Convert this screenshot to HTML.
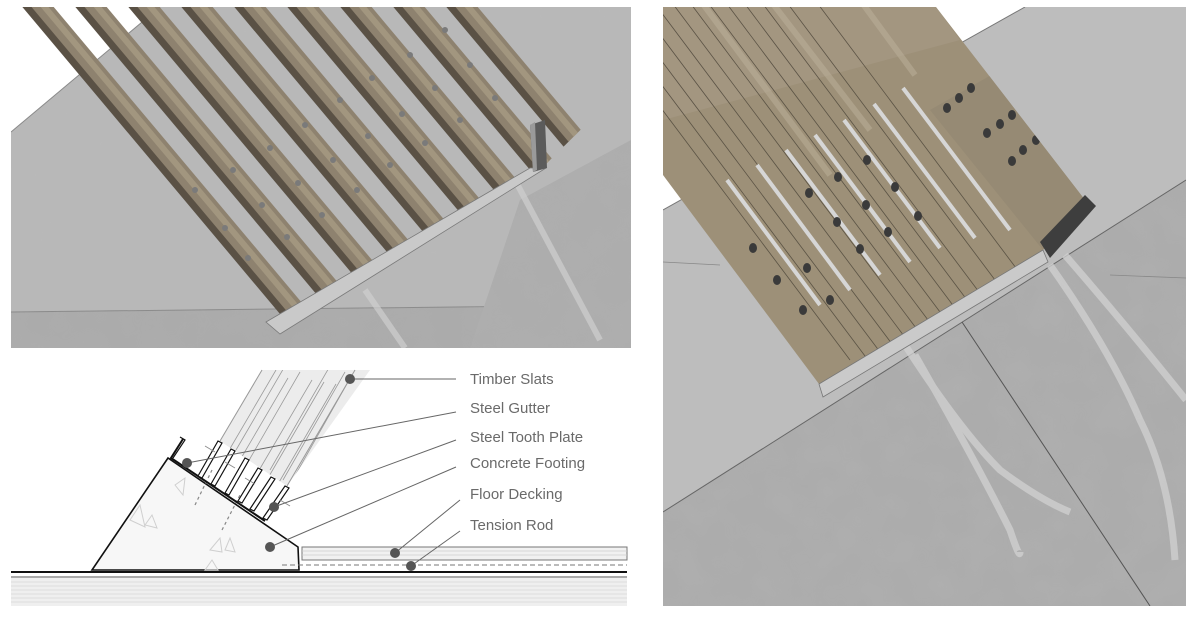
<!DOCTYPE html>
<html><head><meta charset="utf-8"><style>
html,body{margin:0;padding:0;background:#fff;}
svg{display:block;}
text{font-family:"Liberation Sans",sans-serif;font-size:15px;fill:#6a6a6a;}
</style></head><body>
<svg width="1202" height="617" viewBox="0 0 1202 617" xmlns="http://www.w3.org/2000/svg">
<defs>
<clipPath id="lp"><rect x="11" y="7" width="620" height="341"/></clipPath>
<clipPath id="ls"><polygon points="11,7 631,7 631,80 545,165 272,322 11,322"/></clipPath>
<clipPath id="rp"><rect x="663" y="7" width="523" height="599"/></clipPath>
<clipPath id="rs"><polygon points="663,7 936,7 1085,200 1043,250 819,384 698,222 663,175"/></clipPath>
<clipPath id="sl"><polygon points="220,441 287,486 370,370 262,370"/></clipPath>
<filter id="noise" x="0" y="0" width="100%" height="100%"><feTurbulence type="fractalNoise" baseFrequency="0.03" numOctaves="2" seed="3"/><feColorMatrix type="matrix" values="0 0 0 0 0.5  0 0 0 0 0.5  0 0 0 0 0.5  0 0 0 0.9 -0.3"/></filter>
</defs>

<!-- ===== LEFT TOP PANEL ===== -->
<g clip-path="url(#lp)">
<rect x="11" y="7" width="620" height="341" fill="#b8b8b8"/>
<polygon points="11,312 631,305 631,348 11,348" fill="#ababab"/>
<line x1="11" y1="312" x2="631" y2="305" stroke="#8a8a8a" stroke-width="1"/>
<polygon points="520,200 631,140 631,348 470,348" fill="#adadad"/>
<rect x="11" y="7" width="620" height="341" filter="url(#noise)" opacity="0.25"/>
<polygon points="11,7 160,7 11,132" fill="#ffffff"/>
<line x1="11" y1="132" x2="160" y2="7" stroke="#8a8a8a"/>
<g stroke="#cfcfcf" stroke-width="6" opacity="0.7" fill="none">
<line x1="515" y1="180" x2="600" y2="340"/><line x1="365" y1="290" x2="405" y2="348"/>
</g>
<g clip-path="url(#ls)">
<g transform="translate(25,7) rotate(50)">
<g fill="#5a5145">
<rect x="-40" y="-6" width="700" height="8"/><rect x="-40" y="-46.6" width="700" height="8"/><rect x="-40" y="-87.2" width="700" height="8"/><rect x="-40" y="-127.8" width="700" height="8"/><rect x="-40" y="-168.4" width="700" height="8"/><rect x="-40" y="-209" width="700" height="8"/><rect x="-40" y="-249.6" width="700" height="8"/><rect x="-40" y="-290.2" width="700" height="8"/><rect x="-40" y="-330.8" width="700" height="8"/>
</g>
<g fill="#8e826f">
<rect x="-40" y="-22" width="700" height="17"/><rect x="-40" y="-62.6" width="700" height="17"/><rect x="-40" y="-103.2" width="700" height="17"/><rect x="-40" y="-143.8" width="700" height="17"/><rect x="-40" y="-184.4" width="700" height="17"/><rect x="-40" y="-225" width="700" height="17"/><rect x="-40" y="-265.6" width="700" height="17"/><rect x="-40" y="-306.2" width="700" height="17"/><rect x="-40" y="-346.8" width="700" height="17"/>
</g>
<g fill="#a2967f">
<rect x="-40" y="-18" width="700" height="6"/><rect x="-40" y="-58.6" width="700" height="6"/><rect x="-40" y="-99.2" width="700" height="6"/><rect x="-40" y="-139.8" width="700" height="6"/><rect x="-40" y="-180.4" width="700" height="6"/><rect x="-40" y="-221" width="700" height="6"/><rect x="-40" y="-261.6" width="700" height="6"/><rect x="-40" y="-302.2" width="700" height="6"/><rect x="-40" y="-342.8" width="700" height="6"/>
</g>
</g>
</g>
<g fill="#7a7a7a">
<circle cx="195" cy="190" r="3"/><circle cx="225" cy="228" r="3"/><circle cx="248" cy="258" r="3"/>
<circle cx="233" cy="170" r="3"/><circle cx="262" cy="205" r="3"/><circle cx="287" cy="237" r="3"/>
<circle cx="270" cy="148" r="3"/><circle cx="298" cy="183" r="3"/><circle cx="322" cy="215" r="3"/>
<circle cx="305" cy="125" r="3"/><circle cx="333" cy="160" r="3"/><circle cx="357" cy="190" r="3"/>
<circle cx="340" cy="100" r="3"/><circle cx="368" cy="136" r="3"/><circle cx="390" cy="165" r="3"/>
<circle cx="372" cy="78" r="3"/><circle cx="402" cy="114" r="3"/><circle cx="425" cy="143" r="3"/>
<circle cx="410" cy="55" r="3"/><circle cx="435" cy="88" r="3"/><circle cx="460" cy="120" r="3"/>
<circle cx="445" cy="30" r="3"/><circle cx="470" cy="65" r="3"/><circle cx="495" cy="98" r="3"/>
</g>
<polygon points="266,322 530,168 546,168 280,334" fill="#c9c9c9" stroke="#7a7a7a" stroke-width="0.8"/>
<polygon points="530,125 545,120 547,168 533,172" fill="#5b5b5b"/>
<polygon points="530,125 535,122 537,170 533,172" fill="#9a9a9a"/>
</g>

<!-- ===== BOTTOM LEFT DIAGRAM ===== -->
<g>
<rect x="11" y="578" width="616" height="28" fill="#efefef"/>
<g stroke="#dcdcdc" stroke-width="1">
<line x1="11" y1="582" x2="627" y2="582"/><line x1="11" y1="586" x2="627" y2="586"/><line x1="11" y1="590" x2="627" y2="590"/><line x1="11" y1="594" x2="627" y2="594"/><line x1="11" y1="598" x2="627" y2="598"/><line x1="11" y1="602" x2="627" y2="602"/>
</g>
<line x1="11" y1="572" x2="627" y2="572" stroke="#111" stroke-width="2"/>
<line x1="11" y1="577" x2="627" y2="577" stroke="#555" stroke-width="1"/>
</g>
<polygon points="92,570 168,458 298,547 299,570" fill="#f7f7f7" stroke="#111" stroke-width="1.6"/>
<g fill="none" stroke="#cfcfcf" stroke-width="1">
<polygon points="130,520 140,505 145,527"/><polygon points="145,525 152,515 157,528"/>
<polygon points="210,550 220,538 222,552"/><polygon points="225,550 230,538 235,552"/>
<polygon points="205,570 212,560 218,570"/><polygon points="175,485 185,478 183,495"/>
</g>
<g stroke="#888" stroke-width="1.2" stroke-dasharray="3,3">
<line x1="195" y1="505" x2="212" y2="470"/><line x1="222" y1="530" x2="240" y2="495"/>
</g>
<g clip-path="url(#sl)">
<rect x="200" y="360" width="180" height="140" fill="#ececec"/>
<g stroke="#9a9a9a" stroke-width="0.8">
<line x1="216" y1="444" x2="264" y2="362"/><line x1="228" y1="452" x2="276" y2="370"/><line x1="240" y1="460" x2="288" y2="378"/>
<line x1="248" y1="462" x2="300" y2="372"/><line x1="258" y1="472" x2="312" y2="380"/><line x1="268" y1="478" x2="324" y2="382"/>
<line x1="278" y1="484" x2="336" y2="384"/><line x1="288" y1="488" x2="348" y2="382"/><line x1="236" y1="450" x2="285" y2="366"/>
<line x1="270" y1="470" x2="330" y2="366"/><line x1="283" y1="480" x2="345" y2="372"/>
</g>
</g>
<line x1="287" y1="486" x2="355" y2="370" stroke="#999" stroke-width="1"/>
<line x1="220" y1="441" x2="262" y2="370" stroke="#999" stroke-width="1"/>
<polyline points="183,439 171,458 265,521" fill="none" stroke="#111" stroke-width="2"/>
<polyline points="180,437 185,440 173,458" fill="none" stroke="#111" stroke-width="1.2"/>
<g fill="#fff" stroke="#111" stroke-width="1.2">
<polygon points="198,476 218,441 222,443 202,478"/>
<polygon points="211,484 231,449 235,451 215,486"/>
<polygon points="225,493 245,458 249,460 229,495"/>
<polygon points="238,501 258,468 262,470 242,503"/>
<polygon points="250,509 271,477 275,479 254,511"/>
<polygon points="263,518 285,486 289,488 267,520"/>
</g>
<g stroke="#888" stroke-width="0.8">
<line x1="205" y1="446" x2="215" y2="452"/><line x1="225" y1="462" x2="235" y2="468"/><line x1="245" y1="478" x2="255" y2="484"/><line x1="280" y1="500" x2="290" y2="506"/>
</g>
<rect x="302" y="547" width="325" height="13" fill="#f1f1f1" stroke="#777" stroke-width="1"/>
<g stroke="#ccc" stroke-width="0.7"><line x1="302" y1="551" x2="627" y2="551"/><line x1="302" y1="555" x2="627" y2="555"/></g>
<line x1="282" y1="565" x2="627" y2="565" stroke="#777" stroke-width="1" stroke-dasharray="5,3"/>
<g stroke="#666" stroke-width="1">
<line x1="350" y1="379" x2="456" y2="379"/>
<line x1="187" y1="463" x2="456" y2="412"/>
<line x1="274" y1="507" x2="456" y2="440"/>
<line x1="270" y1="547" x2="456" y2="467"/>
<line x1="395" y1="553" x2="460" y2="500"/>
<line x1="411" y1="566" x2="460" y2="531"/>
</g>
<g fill="#555">
<circle cx="350" cy="379" r="5"/><circle cx="187" cy="463" r="5"/><circle cx="274" cy="507" r="5"/>
<circle cx="270" cy="547" r="5"/><circle cx="395" cy="553" r="5"/><circle cx="411" cy="566" r="5"/>
</g>
<text x="470" y="384">Timber Slats</text>
<text x="470" y="413">Steel Gutter</text>
<text x="470" y="442">Steel Tooth Plate</text>
<text x="470" y="468">Concrete Footing</text>
<text x="470" y="499">Floor Decking</text>
<text x="470" y="530">Tension Rod</text>

<!-- ===== RIGHT PANEL ===== -->
<g clip-path="url(#rp)">
<rect x="663" y="7" width="523" height="599" fill="#acacac"/>
<rect x="663" y="7" width="523" height="599" filter="url(#noise)" opacity="0.4"/>
<polygon points="1025,7 1186,7 1186,180 663,512 663,210" fill="#bdbdbd"/>
<line x1="1186" y1="180" x2="663" y2="512" stroke="#666" stroke-width="1"/>
<polygon points="663,7 1025,7 663,210" fill="#ffffff"/>
<line x1="663" y1="210" x2="1025" y2="7" stroke="#777" stroke-width="1"/>
<line x1="663" y1="262" x2="720" y2="265" stroke="#888" stroke-width="0.8"/>
<line x1="1110" y1="275" x2="1186" y2="278" stroke="#888" stroke-width="0.8"/>
<line x1="962" y1="322" x2="1150" y2="606" stroke="#555" stroke-width="1"/>
<g fill="none" stroke="#d2d2d2" stroke-width="7" opacity="0.75">
<path d="M905,345 Q960,430 1000,470 Q1040,500 1070,512"/>
<path d="M915,355 Q975,460 1010,530 Q1020,560 1020,552"/>
<path d="M1050,265 Q1110,350 1140,420 Q1170,480 1175,560"/>
<path d="M1065,255 Q1130,330 1186,400"/>
</g>
<g clip-path="url(#rs)">
<rect x="663" y="7" width="440" height="390" fill="#9d9078"/>
<polygon points="663,7 936,7 960,40 663,120" fill="#a39680"/>
<polygon points="930,110 1000,70 1085,200 1043,250" fill="#968a74"/>
<g stroke="#5a5244" stroke-width="0.8">
<line x1="580" y1="0" x2="850" y2="360"/><line x1="598" y1="0" x2="868" y2="360"/><line x1="616" y1="0" x2="886" y2="360"/>
<line x1="634" y1="0" x2="904" y2="360"/><line x1="652" y1="0" x2="922" y2="360"/><line x1="670" y1="0" x2="940" y2="360"/>
<line x1="688" y1="0" x2="958" y2="360"/><line x1="706" y1="0" x2="976" y2="360"/><line x1="724" y1="0" x2="994" y2="360"/>
<line x1="742" y1="0" x2="1012" y2="360"/><line x1="760" y1="0" x2="1030" y2="360"/><line x1="785" y1="0" x2="1055" y2="360"/>
<line x1="815" y1="0" x2="1085" y2="360"/>
</g>
<g stroke="#bdb29b" stroke-width="6" opacity="0.5">
<line x1="700" y1="0" x2="830" y2="175"/><line x1="770" y1="0" x2="870" y2="130"/><line x1="860" y1="0" x2="915" y2="75"/>
</g>
<g stroke="#d6d6d6" stroke-width="4">
<line x1="727" y1="180" x2="820" y2="305"/><line x1="757" y1="165" x2="850" y2="290"/><line x1="786" y1="150" x2="880" y2="275"/>
<line x1="815" y1="135" x2="910" y2="262"/><line x1="844" y1="120" x2="940" y2="248"/><line x1="874" y1="104" x2="975" y2="238"/><line x1="903" y1="88" x2="1010" y2="230"/>
</g>
<g fill="#3a3a3a">
<ellipse cx="971" cy="88" rx="4" ry="5"/><ellipse cx="959" cy="98" rx="4" ry="5"/><ellipse cx="947" cy="108" rx="4" ry="5"/>
<ellipse cx="1012" cy="115" rx="4" ry="5"/><ellipse cx="1000" cy="124" rx="4" ry="5"/><ellipse cx="987" cy="133" rx="4" ry="5"/>
<ellipse cx="1036" cy="140" rx="4" ry="5"/><ellipse cx="1023" cy="150" rx="4" ry="5"/><ellipse cx="1012" cy="161" rx="4" ry="5"/>
<ellipse cx="867" cy="160" rx="4" ry="5"/><ellipse cx="838" cy="177" rx="4" ry="5"/><ellipse cx="809" cy="193" rx="4" ry="5"/>
<ellipse cx="895" cy="187" rx="4" ry="5"/><ellipse cx="866" cy="205" rx="4" ry="5"/><ellipse cx="837" cy="222" rx="4" ry="5"/>
<ellipse cx="918" cy="216" rx="4" ry="5"/><ellipse cx="888" cy="232" rx="4" ry="5"/><ellipse cx="860" cy="249" rx="4" ry="5"/>
<ellipse cx="753" cy="248" rx="4" ry="5"/><ellipse cx="777" cy="280" rx="4" ry="5"/><ellipse cx="803" cy="310" rx="4" ry="5"/>
<ellipse cx="830" cy="300" rx="4" ry="5"/><ellipse cx="807" cy="268" rx="4" ry="5"/>
</g>
</g>
<polygon points="819,384 1043,250 1048,262 823,397" fill="#cacaca" stroke="#777" stroke-width="0.8"/>
<polygon points="1040,242 1085,195 1096,206 1050,258" fill="#3e3e3e"/>
</g>
</svg>
</body></html>
